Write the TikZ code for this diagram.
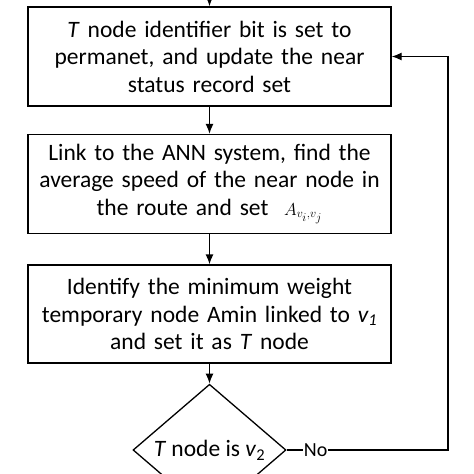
\documentclass[tikz,border=0pt]{standalone}
\usepackage{fontspec}
\setmainfont{Carlito}
\usepackage{amsmath}
\usetikzlibrary{shapes.geometric,arrows.meta}

\begin{document}
\begin{tikzpicture}[x=1pt, y=-1pt, line width=1.3pt, >={Latex[length=10pt,width=8pt]}]
    \useasboundingbox (0,0) rectangle (474,474);
    \begin{scope}[every node/.style={draw, rectangle, minimum width=363pt, text width=355pt, align=center, inner sep=1pt, font=\fontsize{23.5}{27.5}\selectfont}]
    \node[minimum height=99pt] (setT) at (209.5,56.5) {\textit{T} node identifier bit is set to\\ permanet, and update the near\\ status record set};
    \node[minimum height=99pt] (ann) at (209.5,184) {Link to the ANN system, find the\\ average speed of the near node in\\ the route and set \ $\scriptstyle A_{v_i,v_j}$};
    \node[minimum height=98pt] (amin) at (209.5,314) {Identify the minimum weight\\ temporary node Amin linked to \textit{v\textsubscript{1}}\\ and set it as \textit{T} node};
    \end{scope}
    \node[draw, diamond, minimum width=153pt, minimum height=114pt, inner sep=0pt, font=\fontsize{23.5}{27.5}\selectfont] (isv) at (209.5,450) {\textit{T} node is \textit{v}\textsubscript{2}};
    \coordinate (start) at (209.5,0);
    \coordinate (corner) at (448,450);
    \draw[->] (start) -- (setT.north);
    \draw[->] (setT.south) -- (ann.north);
    \draw[->] (ann.south) -- (amin.north);
    \draw[->] (amin.south) -- (isv.north);
    \draw[->] (isv.east) -- node[pos=0.18, fill=white, inner sep=1pt, font=\fontsize{20}{22}\selectfont] {No} (corner) |- (setT.east);
  \end{tikzpicture}
\end{document}
